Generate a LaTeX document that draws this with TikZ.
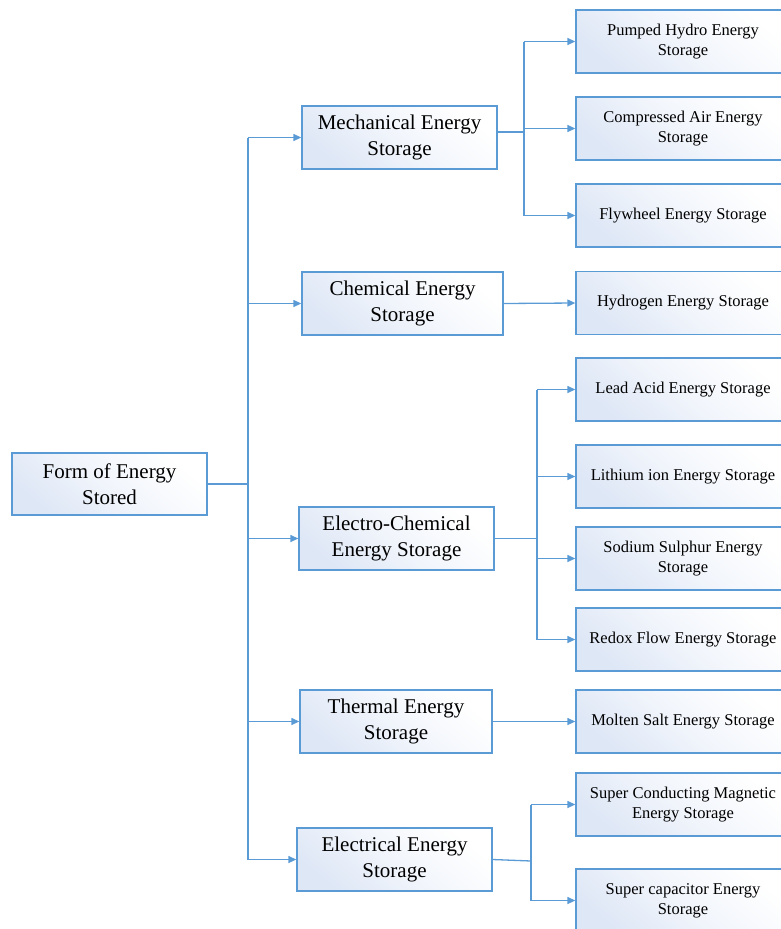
\documentclass[tikz,border=0pt]{standalone}
\usepackage{fontspec}
\setmainfont{Liberation Serif}
\usetikzlibrary{arrows.meta}
\definecolor{lineblue}{RGB}{91,155,213}
\definecolor{fillblue}{RGB}{222,231,246}
\tikzset{
  box/.style={draw=lineblue, line width=1.3pt, inner sep=0pt, align=center,
    shading=axis, top color=white, bottom color=fillblue, middle color=white!60!fillblue, shading angle=-40},
  big/.style={box, minimum height=63pt, font=\fontsize{21}{26}\selectfont},
  small/.style={box, minimum width=214pt, minimum height=63pt, font=\fontsize{16.5}{20}\selectfont},
  conn/.style={draw=lineblue, line width=1.3pt},
  arr/.style={conn, -{Triangle[length=8pt,width=7pt]}}
}
\begin{document}
\begin{tikzpicture}[x=1pt,y=-1pt]
\useasboundingbox (0,0) rectangle (781,929);
\begin{scope}
\clip (0,0) rectangle (781,929);
% level 0
\node[big, minimum width=195pt, minimum height=62pt] (root) at (109.5,484) {Form of Energy\\Stored};
% level 1
\node[big, minimum width=195pt] (mech) at (399.5,137.5) {Mechanical Energy\\Storage};
\node[big, minimum width=201pt] (chem) at (402.5,303.5) {Chemical Energy\\Storage};
\node[big, minimum width=195pt] (elch) at (396.5,538.5) {Electro-Chemical\\Energy Storage};
\node[big, minimum width=192pt] (therm) at (396,721.5) {Thermal Energy\\Storage};
\node[big, minimum width=195pt] (elec) at (394.5,859.5) {Electrical Energy\\Storage};
% level 2
\node[small] (ph) at (683,41.5) {Pumped Hydro Energy\\Storage};
\node[small] (ca) at (683,128.5) {Compressed Air Energy\\Storage};
\node[small] (fw) at (683,215.5) {Flywheel Energy Storage};
\node[small] (hy) at (683,303) {Hydrogen Energy Storage};
\node[small] (la) at (683,389.5) {Lead Acid Energy Storage};
\node[small] (li) at (683,476.5) {Lithium ion Energy Storage};
\node[small] (ns) at (683,558.5) {Sodium Sulphur Energy\\Storage};
\node[small] (rf) at (683,639.5) {Redox Flow Energy Storage};
\node[small] (ms) at (683,721.5) {Molten Salt Energy Storage};
\node[small] (sc) at (683,804.5) {Super Conducting Magnetic\\Energy Storage};
\node[small] (cap) at (683,900.5) {Super capacitor Energy\\Storage};
\end{scope}
% trunk
\coordinate (t) at (248,484);
\draw[conn] (root.east) -- (t);
\draw[conn] (t |- mech.west) -- (t |- elec.west);
\draw[arr] (t |- mech.west) -- (mech.west);
\draw[arr] (t |- chem.west) -- (chem.west);
\draw[arr] (t |- elch.west) -- (elch.west);
\draw[arr] (t |- therm.west) -- (therm.west);
\draw[arr] (t |- elec.west) -- (elec.west);
% mechanical branch
\coordinate (m) at (524,132);
\draw[conn] (mech.east |- m) -- (m);
\draw[conn] (m |- ph.west) -- (m |- fw.west);
\draw[arr] (m |- ph.west) -- (ph.west);
\draw[arr] (m |- ca.west) -- (ca.west);
\draw[arr] (m |- fw.west) -- (fw.west);
% chemical
\draw[arr] (chem.east) -- (hy.west);
% electro-chemical branch
\coordinate (e) at (537,538.5);
\draw[conn] (elch.east) -- (e);
\draw[conn] (e |- la.west) -- (e |- rf.west);
\draw[arr] (e |- la.west) -- (la.west);
\draw[arr] (e |- li.west) -- (li.west);
\draw[arr] (e |- ns.west) -- (ns.west);
\draw[arr] (e |- rf.west) -- (rf.west);
% thermal
\draw[arr] (therm.east) -- (ms.west);
% electrical branch
\coordinate (l) at (531,861);
\draw[conn] (elec.east) -- (l);
\draw[conn] (l |- sc.west) -- (l |- cap.west);
\draw[arr] (l |- sc.west) -- (sc.west);
\draw[arr] (l |- cap.west) -- (cap.west);
\end{tikzpicture}
\end{document}
